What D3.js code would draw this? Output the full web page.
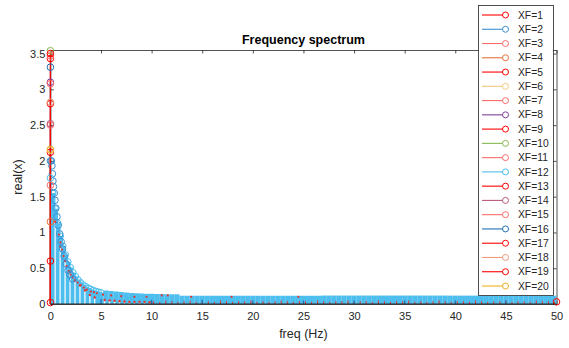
<!DOCTYPE html>
<html>
<head>
<meta charset="utf-8">
<script src="https://cdn.jsdelivr.net/npm/d3@7/dist/d3.min.js"></script>
<style>
  body { margin: 0; background: #fff; }
  text { font-family: Arial, "Liberation Sans", sans-serif; }
</style>
</head>
<body>
<svg id="chart" width="569" height="348"></svg>
<script>
// legend entries and stem colours
const seriesNames = ["XF=1", "XF=2", "XF=3", "XF=4", "XF=5", "XF=6", "XF=7", "XF=8", "XF=9", "XF=10",
                     "XF=11", "XF=12", "XF=13", "XF=14", "XF=15", "XF=16", "XF=17", "XF=18", "XF=19", "XF=20"];
const seriesColors = ["#ff0000", "#3c8fd0", "#ff6b6b", "#e8703a", "#ff0000", "#f2ca7a", "#ff6b6b", "#7e3f9a", "#ff0000", "#88b850",
                      "#ff6b6b", "#4dbeee", "#ff0000", "#b85a78", "#ff6b6b", "#1f6fb5", "#ff0000", "#ee9a78", "#ff0000", "#edb120"];

// value of each series at 0 Hz
const dcValues = [0.60, 2.00, 1.66, 1.15, 2.12, 2.15, 2.50, 3.10, 2.80, 3.54,
                  3.08, 1.76, 3.43, 2.52, 3.47, 3.31, 3.50, 2.82, 0.02, 2.16];

// XF=12, dense bins: 0.25 Hz steps up to 5 Hz, then 0.5 Hz steps to 50 Hz
const lowBinFreqs = d3.range(0.25, 5.001, 0.25);
const lowBinVals = [1.55, 1.33, 1.13, 0.95, 0.81, 0.69, 0.59, 0.51, 0.44, 0.385,
                    0.34, 0.30, 0.27, 0.245, 0.225, 0.207, 0.192, 0.18, 0.17, 0.161];
const highBinFreqs = d3.range(5.5, 50.001, 0.5);
const highBinVals = [0.190, 0.181, 0.173, 0.166, 0.160, 0.155, 0.151, 0.148, 0.145, 0.142,
                     0.140, 0.139, 0.137, 0.136, 0.135,
                     0.117, 0.117, 0.117, 0.116, 0.116, 0.116, 0.116, 0.116, 0.115, 0.115,
                     0.115, 0.115, 0.115, 0.115, 0.115, 0.115, 0.115, 0.115, 0.115, 0.115,
                     0.115, 0.115, 0.115, 0.115, 0.115, 0.115, 0.115, 0.115, 0.118, 0.118,
                     0.118, 0.118, 0.118, 0.118, 0.118, 0.118, 0.118, 0.118, 0.118, 0.118,
                     0.118, 0.118, 0.118, 0.118, 0.118, 0.118, 0.118, 0.118, 0.118, 0.118,
                     0.118, 0.118, 0.118, 0.117, 0.117, 0.117, 0.117, 0.117, 0.117, 0.117,
                     0.117, 0.117, 0.117, 0.117, 0.117, 0.117, 0.117, 0.117, 0.117, 0.117,
                     0.117, 0.117, 0.117, 0.117, 0.117];

// XF=2 circles hugging the curve near 0 Hz
const curveFreqs = [0.10, 0.15, 0.20, 0.25, 0.30, 0.38, 0.45, 0.54, 0.65, 0.78, 0.92, 1.06, 1.20, 1.36, 1.55, 1.75, 1.95, 2.20];
const curveVals = [2.00, 1.93, 1.82, 1.72, 1.64, 1.55, 1.45, 1.34, 1.22, 1.10, 0.98, 0.87, 0.77, 0.67, 0.56, 0.47, 0.41, 0.35];

// XF=3 thin stems (pale) with small red tops
const thinFreqs = [0.47, 0.96, 1.45, 1.94, 2.43, 2.92, 3.41, 3.90, 4.38, 5.36, 5.85, 6.34, 6.83, 7.32, 7.80, 8.30, 8.80, 9.30, 9.80];
const thinVals = [1.15, 0.80, 0.60, 0.45, 0.33, 0.26, 0.19, 0.125, 0.09, 0.055, 0.05, 0.045, 0.04, 0.035, 0.03, 0.03, 0.03, 0.03, 0.025];

// XF=1 small red markers near the curve
const dotFreqs = [0.85, 1.00, 1.15, 1.30, 1.45, 1.60, 1.80, 2.00, 2.20, 2.45, 2.70, 3.00, 3.30, 3.60, 4.00, 4.30, 4.60, 5.20, 6.00, 7.00, 8.30, 9.50, 11.0, 11.6, 13.9, 17.9, 24.5];
const dotVals = [0.97, 0.86, 0.76, 0.67, 0.60, 0.53, 0.46, 0.41, 0.37, 0.33, 0.30, 0.265, 0.23, 0.20, 0.175, 0.165, 0.15, 0.13, 0.12, 0.11, 0.10, 0.10, 0.12, 0.12, 0.10, 0.10, 0.10];

// XF=5 short red stems along the base, 10..50 Hz
const baseFreqs = d3.range(10.2, 50, 0.6);
const baseVals = [0.04, 0.03, 0.05, 0.04, 0.03, 0.04, 0.05, 0.03, 0.04, 0.04,
                  0.03, 0.05, 0.04, 0.03, 0.04, 0.04, 0.05, 0.03, 0.04, 0.03,
                  0.04, 0.05, 0.04, 0.03, 0.04, 0.04, 0.03, 0.05, 0.04, 0.03,
                  0.04, 0.04, 0.05, 0.03, 0.04, 0.04, 0.03, 0.05, 0.04, 0.03,
                  0.04, 0.04, 0.05, 0.03, 0.04, 0.03, 0.04, 0.05, 0.04, 0.03,
                  0.04, 0.04, 0.03, 0.05, 0.04, 0.03, 0.04, 0.04, 0.05, 0.03,
                  0.04, 0.04, 0.03, 0.05, 0.04, 0.04, 0.03];

// XF=16 dark stems every 5 Hz
const darkFreqs = [5, 10, 15, 20, 25, 30, 35, 40, 45];
const darkVals = [0.07, 0.06, 0.06, 0.05, 0.05, 0.05, 0.05, 0.05, 0.05];

// last bin of XF=1 at 50 Hz
const endFreqs = [50];
const endVals = [0.03];

const xTicks = [0, 5, 10, 15, 20, 25, 30, 35, 40, 45, 50];
const yTicks = [0, 0.5, 1, 1.5, 2, 2.5, 3, 3.5];

const svg = d3.select("#chart");
const x = d3.scaleLinear().domain([0, 50]).range([50.4, 556.5]);
const y = d3.scaleLinear().domain([0, 3.55]).range([304, 50]);
const axisColor = "#262626";

svg.append("defs").append("clipPath").attr("id", "plot")
    .append("rect")
    .attr("x", x(0)).attr("y", y(3.55))
    .attr("width", x(50) - x(0)).attr("height", y(0) - y(3.55));

// axes (drawn under the data, like MATLAB)
const gx = svg.append("g").attr("transform", `translate(0,${y(0)})`)
    .call(d3.axisBottom(x).tickValues(xTicks).tickSizeInner(-3.5).tickSizeOuter(0).tickPadding(8));
const gxTop = svg.append("g").attr("transform", `translate(0,${y(3.55)})`)
    .call(d3.axisTop(x).tickValues(xTicks).tickSizeInner(-3.5).tickSizeOuter(0).tickFormat(""));
const gy = svg.append("g").attr("transform", `translate(${x(0)},0)`)
    .call(d3.axisLeft(y).tickValues(yTicks).tickSizeInner(-3.5).tickSizeOuter(0).tickPadding(5).tickFormat(d3.format("")));
const gyRight = svg.append("g").attr("transform", `translate(${x(50)},0)`)
    .call(d3.axisRight(y).tickValues(yTicks).tickSizeInner(-3.5).tickSizeOuter(0).tickFormat(""));

[gx, gxTop, gy, gyRight].forEach(g => {
    g.selectAll("path, line").attr("stroke", axisColor).attr("stroke-width", 0.8);
    g.selectAll("text").attr("fill", axisColor).style("font-size", "11px");
});

const data = svg.append("g");

function stems(g, freqs, vals, color, width, clip) {
    const s = g.append("g");
    if (clip) s.attr("clip-path", "url(#plot)");
    s.selectAll("line").data(freqs).join("line")
        .attr("x1", d => x(d)).attr("x2", d => x(d))
        .attr("y1", y(0)).attr("y2", (d, i) => y(vals[i]))
        .attr("stroke", color).attr("stroke-width", width);
}

function markers(g, freqs, vals, color, r, filled) {
    g.append("g").selectAll("circle").data(freqs).join("circle")
        .attr("cx", d => x(d)).attr("cy", (d, i) => y(vals[i]))
        .attr("r", r)
        .attr("fill", filled ? color : "none")
        .attr("stroke", color).attr("stroke-width", filled ? 0 : 1);
}

// XF=12 dense bins form the blue area
const c12 = seriesColors[11];
stems(data, lowBinFreqs, lowBinVals, c12, 5, true);
stems(data, highBinFreqs, highBinVals, c12, 5.2, true);
markers(data, lowBinFreqs, lowBinVals, c12, 3, false);

// pale thin stems with red tops
stems(data, thinFreqs, thinVals, "#f4f8fb", 1.3, false);
markers(data, thinFreqs, thinVals, "#e8322f", 1.2, true);

// small red markers
markers(data, dotFreqs, dotVals, "#e8322f", 1.1, true);

// short red base stems and dark stems
stems(data, baseFreqs, baseVals, "#e8322f", 1, false);
stems(data, darkFreqs, darkVals, seriesColors[15], 1.2, false);

// XF=2 circles along the curve
markers(data, curveFreqs, curveVals, seriesColors[1], 3.3, false);

// 0 Hz stems for every series; the pure red ones end up on top
const dcOrder = d3.range(seriesNames.length)
    .sort((a, b) => d3.ascending(seriesColors[a] === "#ff0000", seriesColors[b] === "#ff0000") || a - b);
const dcLines = data.append("g");
const dcMarks = data.append("g");
dcOrder.forEach(i => {
    stems(dcLines, [0], [dcValues[i]], seriesColors[i], 1, false);
});
seriesNames.forEach((name, i) => {
    markers(dcMarks, [0], [dcValues[i]], seriesColors[i], 3.3, false);
});

// last bin
markers(data, endFreqs, endVals, "#ff0000", 3.3, false);

// stem baseline
svg.append("line")
    .attr("x1", x(0)).attr("x2", x(50)).attr("y1", y(0)).attr("y2", y(0))
    .attr("stroke", axisColor).attr("stroke-width", 1);

// title and labels
svg.append("text").attr("x", (x(0) + x(50)) / 2).attr("y", 44)
    .attr("text-anchor", "middle").style("font-size", "12.5px").style("font-weight", "bold")
    .attr("fill", "#000").text("Frequency spectrum");
svg.append("text").attr("x", (x(0) + x(50)) / 2).attr("y", 338)
    .attr("text-anchor", "middle").style("font-size", "12.5px")
    .attr("fill", axisColor).text("freq (Hz)");
svg.append("text").attr("transform", `translate(22,${(y(0) + y(3.55)) / 2}) rotate(-90)`)
    .attr("text-anchor", "middle").style("font-size", "12.5px")
    .attr("fill", axisColor).text("real(x)");

// legend
const legend = svg.append("g");
legend.append("rect")
    .attr("x", 478.5).attr("y", 5.5).attr("width", 75).attr("height", 290)
    .attr("fill", "#fff").attr("stroke", axisColor).attr("stroke-width", 0.8);
const rowY = d3.scaleLinear().domain([0, 19]).range([15, 286]);
const rows = legend.selectAll("g.row").data(seriesNames).join("g")
    .attr("class", "row")
    .attr("transform", (d, i) => `translate(0,${rowY(i)})`);
rows.append("line")
    .attr("x1", 482).attr("x2", 505.5).attr("y1", 0).attr("y2", 0)
    .attr("stroke", (d, i) => seriesColors[i]).attr("stroke-width", 1.1);
rows.append("circle")
    .attr("cx", 505.5).attr("cy", 0).attr("r", 3)
    .attr("fill", "#fff").attr("stroke", (d, i) => seriesColors[i]).attr("stroke-width", 1);
rows.append("text")
    .attr("x", 518).attr("y", 0).attr("dy", "0.35em")
    .style("font-size", "10.3px").attr("fill", axisColor)
    .text(d => d);
</script>
</body>
</html>
